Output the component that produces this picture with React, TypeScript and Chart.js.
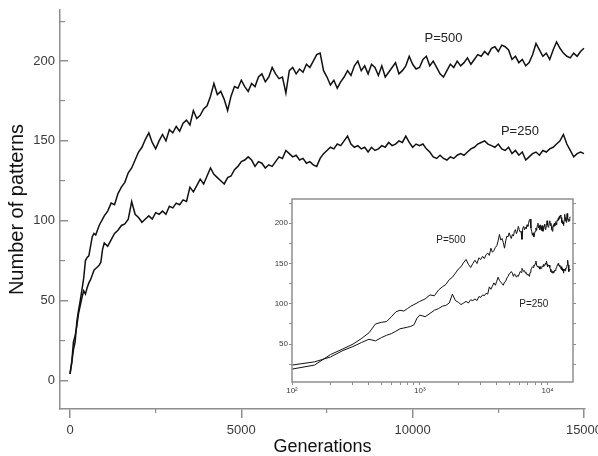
import React, { useEffect, useRef } from 'react';
import { Chart, registerables } from 'chart.js';

Chart.register(...registerables);

// ---------- data ----------
const generations = [
  0, 50, 100, 150, 200, 250, 300, 350, 400, 450, 500, 550, 600, 650, 700, 750, 800, 850, 900, 950,
  1000, 1100, 1200, 1300, 1400, 1500, 1600, 1700, 1800, 1900,
  2000, 2100, 2200, 2300, 2400, 2500, 2600, 2700, 2800, 2900,
  3000, 3100, 3200, 3300, 3400, 3500, 3600, 3700, 3800, 3900,
  4000, 4100, 4200, 4300, 4400, 4500, 4600, 4700, 4800, 4900,
  5000, 5100, 5200, 5300, 5400, 5500, 5600, 5700, 5800, 5900,
  6000, 6100, 6200, 6300, 6400, 6500, 6600, 6700, 6800, 6900,
  7000, 7100, 7200, 7300, 7400, 7500, 7600, 7700, 7800, 7900,
  8000, 8100, 8200, 8300, 8400, 8500, 8600, 8700, 8800, 8900,
  9000, 9100, 9200, 9300, 9400, 9500, 9600, 9700, 9800, 9900,
  10000, 10100, 10200, 10300, 10400, 10500, 10600, 10700, 10800, 10900,
  11000, 11100, 11200, 11300, 11400, 11500, 11600, 11700, 11800, 11900,
  12000, 12100, 12200, 12300, 12400, 12500, 12600, 12700, 12800, 12900,
  13000, 13100, 13200, 13300, 13400, 13500, 13600, 13700, 13800, 13900,
  14000, 14100, 14200, 14300, 14400, 14500, 14600, 14700, 14800, 14900,
  15000,
];

const p500 = [
  4, 11, 19, 24, 37, 44, 50, 57, 64, 75, 77, 78, 84, 90, 92, 91, 94, 97, 99, 101,
  103, 106, 111, 110, 117, 121, 124, 130, 133, 138,
  143, 146, 151, 155, 149, 145, 150, 154, 150, 157,
  155, 159, 156, 161, 163, 160, 169, 164, 166, 170,
  172, 178, 186, 179, 181, 176, 169, 178, 184, 183,
  188, 184, 181, 186, 184, 190, 192, 187, 190, 196,
  192, 189, 190, 180, 194, 196, 192, 195, 193, 198,
  196, 200, 204, 205, 194, 190, 185, 188, 183, 187,
  190, 194, 191, 197, 200, 194, 197, 192, 198, 196,
  191, 197, 190, 193, 196, 199, 192, 194, 197, 203,
  198, 195, 196, 201, 203, 197, 200, 196, 192, 190,
  194, 198, 196, 200, 197, 199, 202, 198, 201, 204,
  203, 206, 204, 208, 209, 206, 210, 209, 207, 201,
  203, 199, 201, 197, 199, 204, 211, 207, 203, 205,
  201, 207, 212, 208, 205, 203, 202, 205, 203, 206,
  208,
];

const p250 = [
  4, 11, 24, 28, 34, 42, 47, 52, 56, 54, 58, 61, 63, 66, 69, 70, 71, 72, 74, 82,
  86, 84, 88, 92, 94, 97, 98, 101, 112, 104,
  102, 99, 101, 103, 101, 105, 104, 106, 104, 109,
  108, 111, 110, 113, 112, 121, 118, 122, 126, 123,
  128, 133, 129, 127, 125, 123, 127, 128, 132, 134,
  137, 138, 140, 138, 134, 137, 136, 133, 135, 134,
  137, 140, 139, 144, 142, 140, 141, 138, 139, 136,
  137, 135, 134, 139, 142, 144, 146, 145, 148, 147,
  150, 153, 148, 146, 147, 145, 146, 143, 146, 144,
  145, 147, 146, 149, 147, 148, 150, 149, 153, 149,
  146, 148, 147, 148, 145, 143, 140, 139, 141, 139,
  138, 140, 139, 141, 142, 141, 143, 145, 146, 148,
  149, 150, 148, 147, 146, 148, 145, 144, 146, 142,
  144, 141, 143, 138, 140, 142, 143, 141, 144, 143,
  145, 146, 148, 150, 154, 148, 144, 140, 142, 143,
  142,
];

// main axes: labelled (major) and unlabelled (minor) ticks
const mainXMajor = [0, 5000, 10000, 15000];
const mainXMinor = [2500, 7500, 12500];
const mainYMajor = [0, 50, 100, 150, 200];
const mainYMinor = [25, 75, 125, 175, 225];

// inset axes
const insetXTicks = [
  100, 200, 300, 400, 500, 600, 700, 800, 900,
  1000, 2000, 3000, 4000, 5000, 6000, 7000, 8000, 9000,
  10000,
];
const insetXLabels: Record<number, string> = { 100: '10²', 1000: '10³', 10000: '10⁴' };
const insetYTicks = [25, 50, 75, 100, 125, 150, 175, 200, 225];
const insetYLabels = [50, 100, 150, 200];

const seriesNames = ['P=500', 'P=250'];

// ---------- styles ----------
const FONT = "'Liberation Sans', Arial, Helvetica, sans-serif";
const AXIS_GREY = '#8e8e8e';
const TICK_TEXT = '#3a3a3a';
const LINE = '#111111';

const MAIN_X = { min: -292, max: 15030 };
const MAIN_Y = { min: -18, max: 232 };

type Note = { text: string; gen: number; value: number };
const mainNotes: Note[] = [
  { text: seriesNames[0], gen: 10900, value: 214 },
  { text: seriesNames[1], gen: 13130, value: 156 },
];
const insetNotes: Note[] = [
  { text: seriesNames[0], gen: 1750, value: 179 },
  { text: seriesNames[1], gen: 7800, value: 100 },
];

function toPoints(vals: number[], minGen: number) {
  return generations
    .map((g, i) => ({ x: g, y: vals[i] }))
    .filter((p) => p.x >= minGen);
}

const setTicks = (list: number[]) => (s: any) => {
  s.ticks = list.map((v) => ({ value: v }));
};

function notesPlugin(notes: Note[], size: number) {
  return {
    id: 'seriesNotes',
    afterDatasetsDraw(chart: any) {
      const { ctx, scales } = chart;
      ctx.save();
      ctx.fillStyle = '#222';
      ctx.font = `${size}px ${FONT}`;
      ctx.textAlign = 'center';
      ctx.textBaseline = 'middle';
      notes.forEach((n) => {
        ctx.fillText(n.text, scales.x.getPixelForValue(n.gen), scales.y.getPixelForValue(n.value));
      });
      ctx.restore();
    },
  };
}

const boxPlugin = {
  id: 'insetBox',
  beforeDatasetsDraw(chart: any) {
    const { ctx, chartArea } = chart;
    ctx.save();
    ctx.fillStyle = '#ffffff';
    ctx.fillRect(chartArea.left, chartArea.top, chartArea.right - chartArea.left, chartArea.bottom - chartArea.top);
    ctx.restore();
  },
  afterDraw(chart: any) {
    const { ctx, chartArea } = chart;
    ctx.save();
    ctx.strokeStyle = AXIS_GREY;
    ctx.lineWidth = 1.5;
    ctx.strokeRect(chartArea.left, chartArea.top, chartArea.right - chartArea.left, chartArea.bottom - chartArea.top);
    ctx.restore();
  },
};

export default function App() {
  const mainRef = useRef<HTMLCanvasElement | null>(null);
  const insetRef = useRef<HTMLCanvasElement | null>(null);

  useEffect(() => {
    const tickFont = { family: FONT, size: 13 };
    const main = new Chart(mainRef.current as HTMLCanvasElement, {
      type: 'line',
      data: {
        datasets: [
          { label: seriesNames[0], data: toPoints(p500, 0), borderColor: LINE, borderWidth: 1.5, pointRadius: 0, tension: 0 },
          { label: seriesNames[1], data: toPoints(p250, 0), borderColor: LINE, borderWidth: 1.5, pointRadius: 0, tension: 0 },
        ],
      },
      options: {
        animation: false,
        responsive: false,
        devicePixelRatio: 1,
        layout: { padding: { top: 10, right: 35, left: 0, bottom: 0 } },
        plugins: { legend: { display: false }, tooltip: { enabled: false } },
        scales: {
          x: {
            type: 'linear',
            position: 'bottom',
            weight: 1,
            ...MAIN_X,
            afterBuildTicks: setTicks(mainXMajor),
            ticks: {
              autoSkip: false,
              maxRotation: 0,
              padding: 5,
              color: TICK_TEXT,
              font: tickFont,
              callback: (v: any) => String(v),
            },
            grid: { drawOnChartArea: false, drawTicks: true, tickLength: 9, color: AXIS_GREY, lineWidth: 1.5 },
            border: { display: true, color: AXIS_GREY, width: 1.5 },
            title: {
              display: true,
              text: 'Generations',
              color: '#111',
              font: { family: FONT, size: 18, lineHeight: 1 },
              padding: { top: 0, bottom: 0 },
            },
            afterFit: (s: any) => {
              s.height = 47;
            },
          },
          xMinor: {
            type: 'linear',
            position: 'bottom',
            weight: 0,
            ...MAIN_X,
            afterBuildTicks: setTicks(mainXMinor),
            ticks: { display: false },
            grid: { drawOnChartArea: false, drawTicks: true, tickLength: 4, color: AXIS_GREY, lineWidth: 1.2 },
            border: { display: false },
            afterFit: (s: any) => {
              s.height = 0;
            },
          },
          y: {
            type: 'linear',
            position: 'left',
            weight: 1,
            ...MAIN_Y,
            afterBuildTicks: setTicks(mainYMajor),
            ticks: {
              autoSkip: false,
              padding: 13,
              color: TICK_TEXT,
              font: tickFont,
              callback: (v: any) => String(v),
            },
            grid: { drawOnChartArea: false, drawTicks: true, tickLength: -8, color: AXIS_GREY, lineWidth: 1.5 },
            border: { display: true, color: AXIS_GREY, width: 1.5 },
            title: {
              display: true,
              text: 'Number of patterns',
              color: '#111',
              font: { family: FONT, size: 20 },
              padding: { top: 5, bottom: 0 },
            },
            afterFit: (s: any) => {
              s.width = 60;
              s.paddingTop = 0;
              s.paddingBottom = 0;
            },
          },
          yMinor: {
            type: 'linear',
            position: 'left',
            weight: 0,
            ...MAIN_Y,
            afterBuildTicks: setTicks(mainYMinor),
            ticks: { display: false },
            grid: { drawOnChartArea: false, drawTicks: true, tickLength: -5, color: AXIS_GREY, lineWidth: 1.2 },
            border: { display: false },
            afterFit: (s: any) => {
              s.width = 0;
              s.paddingTop = 0;
              s.paddingBottom = 0;
            },
          },
        },
      },
      plugins: [notesPlugin(mainNotes, 13)],
    } as any);

    const insetFont = { family: FONT, size: 8 };
    const inset = new Chart(insetRef.current as HTMLCanvasElement, {
      type: 'line',
      data: {
        datasets: [
          { label: seriesNames[0], data: toPoints(p500, 100), borderColor: LINE, borderWidth: 1, pointRadius: 0, tension: 0 },
          { label: seriesNames[1], data: toPoints(p250, 100), borderColor: LINE, borderWidth: 1, pointRadius: 0, tension: 0 },
        ],
      },
      options: {
        animation: false,
        responsive: false,
        devicePixelRatio: 1,
        layout: { padding: { top: 7, right: 0, left: 0, bottom: 0 } },
        plugins: { legend: { display: false }, tooltip: { enabled: false } },
        scales: {
          x: {
            type: 'logarithmic',
            min: 100,
            max: 15800,
            afterBuildTicks: setTicks(insetXTicks),
            ticks: {
              autoSkip: false,
              maxRotation: 0,
              padding: 1,
              color: TICK_TEXT,
              font: insetFont,
              callback: (v: any) => insetXLabels[Number(v)] ?? '',
            },
            grid: { drawOnChartArea: false, drawTicks: true, tickLength: 3, color: AXIS_GREY, lineWidth: 1 },
            border: { display: false },
            afterFit: (s: any) => {
              s.height = 24;
            },
          },
          y: {
            type: 'linear',
            min: 3,
            max: 230,
            afterBuildTicks: setTicks(insetYTicks),
            ticks: {
              autoSkip: false,
              padding: 1,
              color: TICK_TEXT,
              font: insetFont,
              callback: (v: any) => (insetYLabels.includes(Number(v)) ? String(v) : ''),
            },
            grid: { drawOnChartArea: false, drawTicks: true, tickLength: 3, color: AXIS_GREY, lineWidth: 1 },
            border: { display: false },
            afterFit: (s: any) => {
              s.width = 34;
            },
          },
          yRight: {
            type: 'linear',
            position: 'right',
            min: 3,
            max: 230,
            afterBuildTicks: setTicks(insetYTicks),
            ticks: { display: false },
            grid: { drawOnChartArea: false, drawTicks: true, tickLength: 3, color: AXIS_GREY, lineWidth: 1 },
            border: { display: false },
            afterFit: (s: any) => {
              s.width = 6;
            },
          },
        },
      },
      plugins: [boxPlugin, notesPlugin(insetNotes, 10)],
    } as any);

    return () => {
      main.destroy();
      inset.destroy();
    };
  }, []);

  return (
    <div
      style={{
        position: 'fixed',
        left: 0,
        top: 0,
        width: 598,
        height: 456,
        overflow: 'hidden',
        background: '#ffffff',
      }}
    >
      <canvas
        ref={mainRef}
        width={620}
        height={456}
        style={{ position: 'absolute', left: 0, top: 0, width: 620, height: 456 }}
      />
      <canvas
        ref={insetRef}
        width={321}
        height={214}
        style={{ position: 'absolute', left: 258, top: 192, width: 321, height: 214 }}
      />
    </div>
  );
}
